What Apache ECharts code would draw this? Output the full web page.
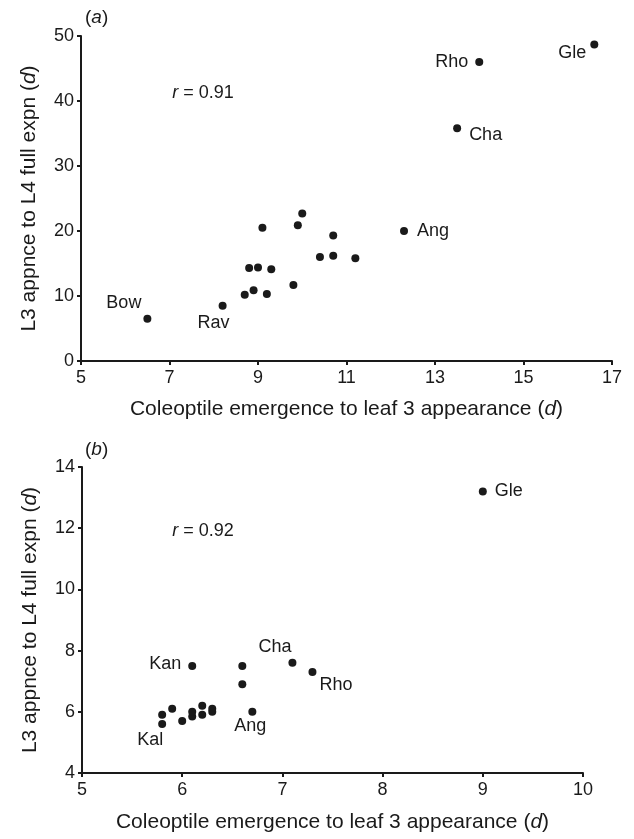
<!DOCTYPE html>
<html>
<head>
<meta charset="utf-8">
<script src="https://cdn.jsdelivr.net/npm/echarts@6/dist/echarts.min.js"></script>
<style>
  html, body { margin: 0; padding: 0; background: #fff; }
  #chart { width: 634px; height: 839px; }
</style>
</head>
<body>
<div id="chart"></div>
<script>
// panel (a)
var aX = [6.5, 8.2, 8.7, 8.9, 9.2, 8.8, 9.0, 9.3, 9.8, 9.1, 9.9, 10.0, 10.7, 10.4, 10.7, 11.2, 12.3, 13.5, 14.0, 16.6];
var aY = [6.5, 8.5, 10.2, 10.9, 10.3, 14.3, 14.4, 14.1, 11.7, 20.5, 20.9, 22.7, 19.3, 16.0, 16.2, 15.8, 20.0, 35.8, 46.0, 48.7];
var aNames = ["Bow", "Rav", "", "", "", "", "", "", "", "", "", "", "", "", "", "", "Ang", "Cha", "Rho", "Gle"];
var aTicksX = [5, 17, 2];
var aTicksY = [0, 50, 10];
var aR = "0.91";

// panel (b)
var bX = [5.8, 5.8, 5.9, 6.0, 6.1, 6.1, 6.2, 6.2, 6.3, 6.3, 6.1, 6.6, 6.6, 6.7, 7.1, 7.3, 9.0];
var bY = [5.6, 5.9, 6.1, 5.7, 5.85, 6.0, 5.9, 6.2, 6.1, 6.0, 7.5, 7.5, 6.9, 6.0, 7.6, 7.3, 13.2];
var bNames = ["Kal", "", "", "", "", "", "", "", "", "", "Kan", "", "", "Ang", "Cha", "Rho", "Gle"];
var bTicksX = [5, 10, 1];
var bTicksY = [4, 14, 2];
var bR = "0.92";

var xTitle = "Coleoptile emergence to leaf 3 appearance ({i|d})";
var yTitle = "L3 appnce to L4 full expn ({i|d})";

// label placement (offset from dot centre, text anchor)
var labelPosA = {
  Bow: [-6, -16, "right"], Rav: [-9, 17, "center"], Ang: [13, 0, "left"],
  Cha: [12, 7, "left"], Rho: [-11, 0, "right"], Gle: [-8, 9, "right"]
};
var labelPosB = {
  Kal: [1, 16, "right"], Kan: [-11, -2, "right"], Ang: [-2, 14, "center"],
  Cha: [-1, -16, "right"], Rho: [7, 13, "left"], Gle: [12, 0, "left"]
};

var ink = "#1a1a1a";
var font = "Liberation Sans, Arial, sans-serif";

function points(xs, ys, names, pos) {
  return xs.map(function (x, i) {
    var p = { value: [x, ys[i]] };
    var lp = pos[names[i]];
    if (lp) {
      p.label = {
        show: true, formatter: names[i],
        position: ["50%", "50%"], offset: [lp[0], lp[1]],
        align: lp[2], verticalAlign: "middle"
      };
    }
    return p;
  });
}

function titleStyle(size) {
  return {
    color: ink, fontSize: size, fontFamily: font, fontWeight: "normal",
    rich: { i: { fontStyle: "italic", fontWeight: "normal", fontSize: size, color: ink, fontFamily: font } }
  };
}

function xAxisFor(t, idx, gap) {
  return {
    type: "value", gridIndex: idx, min: t[0], max: t[1], interval: t[2],
    name: xTitle, nameLocation: "middle", nameGap: gap,
    nameTextStyle: titleStyle(21),
    axisLine: { onZero: false, lineStyle: { color: ink, width: 2 } },
    axisTick: { length: 4, lineStyle: { color: ink, width: 2 } },
    axisLabel: { color: ink, fontSize: 18, fontFamily: font, margin: 8 },
    splitLine: { show: false }
  };
}

function yAxisFor(t, idx) {
  return {
    type: "value", gridIndex: idx, min: t[0], max: t[1], interval: t[2],
    name: yTitle, nameLocation: "middle", nameGap: 41, nameRotate: 90,
    nameTextStyle: titleStyle(21),
    axisLine: { onZero: false, lineStyle: { color: ink, width: 2 } },
    axisTick: { length: 4, lineStyle: { color: ink, width: 2 } },
    axisLabel: { color: ink, fontSize: 18, fontFamily: font, margin: 7 },
    splitLine: { show: false }
  };
}

function rNote(x, y, r, idx) {
  return {
    type: "scatter", xAxisIndex: idx, yAxisIndex: idx, symbolSize: 0,
    itemStyle: { color: ink, opacity: 1 }, silent: true,
    data: [[x, y]],
    label: {
      show: true, position: "right", distance: 0,
      formatter: "{i|r}{n| = " + r + "}",
      rich: {
        i: { fontStyle: "italic", fontSize: 18, color: ink, fontFamily: font },
        n: { fontSize: 18, color: ink, fontFamily: font }
      }
    }
  };
}

var chart = echarts.init(document.getElementById("chart"), null, { renderer: "canvas" });
chart.setOption({
  backgroundColor: "#fff",
  animation: false,
  textStyle: { fontFamily: font },
  title: [
    { text: "({i|a})", left: 80, top: 3, textStyle: titleStyle(19) },
    { text: "({i|b})", left: 80, top: 435, textStyle: titleStyle(19) }
  ],
  grid: [
    { left: 81, top: 36, width: 531, height: 325 },
    { left: 82, top: 467, width: 501, height: 306 }
  ],
  xAxis: [xAxisFor(aTicksX, 0, 38), xAxisFor(bTicksX, 1, 39)],
  yAxis: [yAxisFor(aTicksY, 0), yAxisFor(bTicksY, 1)],
  series: [
    {
      type: "scatter", xAxisIndex: 0, yAxisIndex: 0, symbolSize: 8,
      itemStyle: { color: ink, opacity: 1 },
      label: { color: ink, fontSize: 18, fontFamily: font },
      data: points(aX, aY, aNames, labelPosA)
    },
    {
      type: "scatter", xAxisIndex: 1, yAxisIndex: 1, symbolSize: 8,
      itemStyle: { color: ink, opacity: 1 },
      label: { color: ink, fontSize: 18, fontFamily: font },
      data: points(bX, bY, bNames, labelPosB)
    },
    rNote(7.06, 41.2, aR, 0),
    rNote(5.9, 11.9, bR, 1)
  ]
});
</script>
</body>
</html>
